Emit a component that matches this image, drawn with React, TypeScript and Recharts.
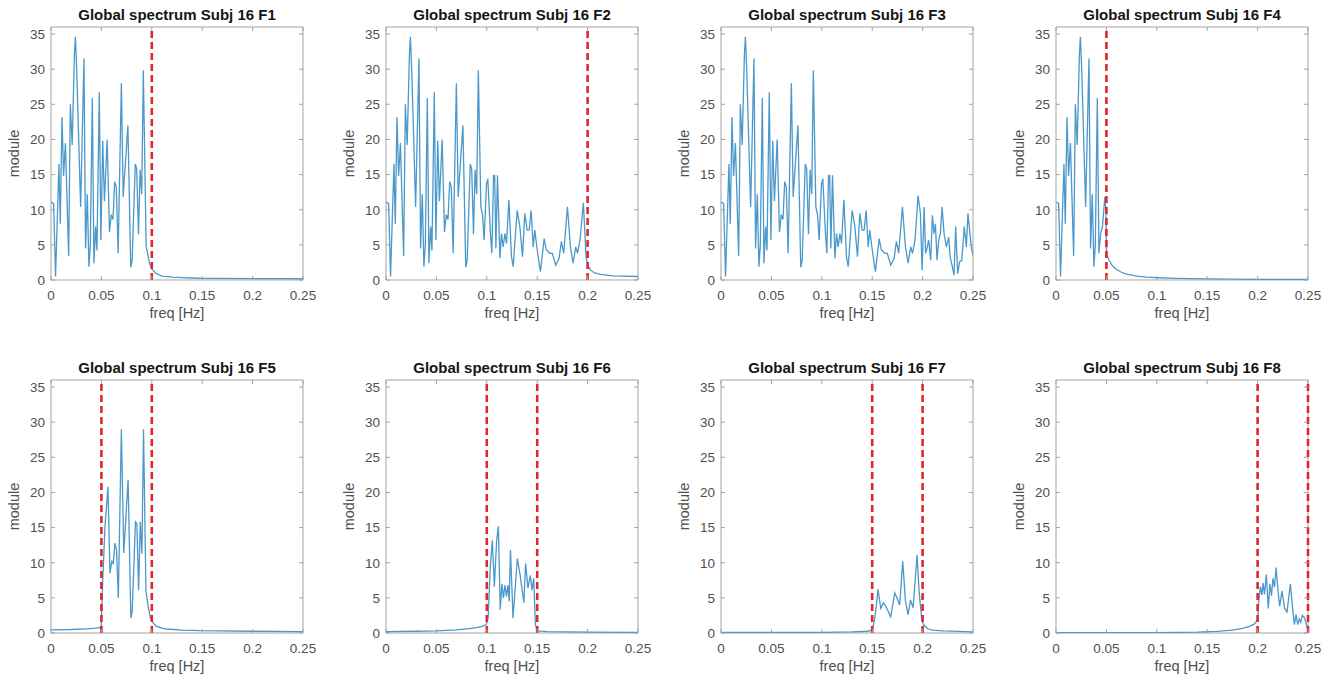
import React from 'react';
import { LineChart, Line, XAxis, YAxis, ReferenceLine, ReferenceArea } from 'recharts';

// ---------- axes ----------
const xTicks = [0, 0.05, 0.1, 0.15, 0.2, 0.25];
const yTicks = [0, 5, 10, 15, 20, 25, 30, 35];
const xDomain = [0, 0.25];
const yDomain = [0, 36];

const titles = [
  'Global spectrum Subj 16 F1',
  'Global spectrum Subj 16 F2',
  'Global spectrum Subj 16 F3',
  'Global spectrum Subj 16 F4',
  'Global spectrum Subj 16 F5',
  'Global spectrum Subj 16 F6',
  'Global spectrum Subj 16 F7',
  'Global spectrum Subj 16 F8',
];
const cutoffs = [[0.1], [0.2], [], [0.05], [0.05, 0.1], [0.1, 0.15], [0.15, 0.2], [0.2, 0.25]];

// ---------- full-band spectrum (F3, shared by F1, F2, F4 in their pass bands) ----------
const baseFreq = [
  0, 0.0026, 0.0045, 0.0079, 0.0092, 0.0109, 0.0125, 0.0143, 0.0175, 0.0192,
  0.021, 0.0232, 0.0242, 0.0255, 0.0294, 0.0327, 0.0343, 0.036, 0.0376, 0.039,
  0.041, 0.0426, 0.0443, 0.0456, 0.0479, 0.0495, 0.0513, 0.053, 0.0557, 0.058,
  0.0598, 0.0615, 0.0632, 0.0648, 0.0666, 0.0698, 0.0716, 0.0763, 0.0791, 0.0805,
  0.0836, 0.085, 0.0868, 0.0884, 0.09, 0.0916, 0.0941, 0.0958, 0.0974, 0.0997,
  0.101, 0.1037, 0.105, 0.1067, 0.1078, 0.109, 0.1106, 0.113, 0.1146, 0.1162,
  0.118, 0.1196, 0.1219, 0.1245, 0.1262, 0.1301, 0.1328, 0.1354, 0.1377, 0.14,
  0.142, 0.144, 0.146, 0.1476, 0.15, 0.1532, 0.1569, 0.159, 0.1625, 0.165,
  0.1684, 0.1717, 0.174, 0.1763, 0.18, 0.183, 0.1856, 0.1882, 0.19, 0.1925,
  0.1955, 0.1978, 0.1995, 0.2015, 0.203, 0.2044, 0.206, 0.208, 0.2097, 0.2113,
  0.2127, 0.2143, 0.216, 0.2176, 0.2193, 0.2213, 0.2236, 0.2259, 0.2275, 0.2295,
  0.2312, 0.2328, 0.2348, 0.2368, 0.2388, 0.2414, 0.2434, 0.245, 0.247, 0.2483,
  0.25,
];
const baseModule = [
  11.1, 10.9, 0.5, 16.5, 8, 23.2, 14.8, 19.5, 3.4, 25,
  19.2, 32, 34.6, 30, 10.4, 31.5, 4.5, 12.2, 1.9, 5,
  25.9, 2.4, 7.6, 4.2, 26.7, 5.7, 19.8, 11.2, 20, 6.8,
  9.3, 8.6, 14, 13.2, 3.8, 28, 11.8, 22, 1.8, 2.8,
  16.5, 15.8, 6.5, 15.7, 12.2, 29.8, 10.4, 9.2, 5.7, 13.7,
  14.4, 6.4, 3.8, 14.9, 14.9, 4.5, 14.9, 3.1, 6.6, 4.7,
  6.6, 5.2, 11.4, 3.3, 1.9, 9.9, 7.6, 3.3, 9.5, 7.1,
  7.1, 9.9, 4.7, 7.1, 4.3, 1.2, 5.9, 4.3, 3.8, 3.8,
  2.1, 3.1, 5.5, 3.8, 10.4, 4.7, 2.4, 4.7, 3.8, 5.7,
  12, 9.5, 1.4, 10.4, 3.8, 4.5, 5.7, 2.8, 9.2, 6.6,
  8, 2.8, 5.7, 6.6, 10.4, 6.6, 4.7, 6.1, 3.1, 1.9,
  0.7, 7.6, 0.9, 2.6, 2.8, 7.6, 4.7, 9.5, 6.6, 4.7,
  3.5,
];

// ---------- F1 (base up to 0.0916, then roll-off) ----------
const f1TailFreq = [0.0944, 0.0977, 0.1003, 0.104, 0.11, 0.12, 0.147, 0.2, 0.25];
const f1TailModule = [4.8, 2.4, 1.5, 0.95, 0.55, 0.4, 0.25, 0.2, 0.18];

// ---------- F2 (base up to 0.1925, then roll-off) ----------
const f2TailFreq = [0.1958, 0.1985, 0.2005, 0.203, 0.207, 0.213, 0.225, 0.25];
const f2TailModule = [11, 3.2, 2, 1.4, 1.0, 0.8, 0.6, 0.5];

// ---------- F4 (base up to 0.041, then roll-off) ----------
const f4TailFreq = [0.0426, 0.0443, 0.046, 0.0485, 0.0495, 0.0502, 0.053, 0.056, 0.06, 0.065, 0.07, 0.08, 0.09, 0.1, 0.12, 0.15, 0.2, 0.25];
const f4TailModule = [3.8, 6.6, 7.5, 11.8, 10, 3.6, 2.7, 2, 1.5, 1.1, 0.85, 0.55, 0.4, 0.32, 0.22, 0.15, 0.1, 0.08];

// ---------- F5 ----------
const f5Freq = [
  0, 0.02, 0.035, 0.045, 0.0498, 0.0512, 0.0535, 0.0565, 0.0585, 0.0603,
  0.0618, 0.0634, 0.065, 0.0668, 0.0698, 0.0722, 0.0765, 0.0792, 0.0805, 0.0838,
  0.0852, 0.0869, 0.0886, 0.0902, 0.0918, 0.0942, 0.0964, 0.0987, 0.1014, 0.1047,
  0.11, 0.1146, 0.13, 0.1476, 0.2, 0.25,
];
const f5Module = [
  0.45, 0.5, 0.6, 0.68, 0.8, 7, 15, 20.8, 8.5, 10.2,
  9.9, 12.8, 11.8, 5, 29, 11.4, 21.8, 2.1, 3, 15.8,
  15.5, 6.1, 15.8, 11.3, 29, 5.9, 3.8, 2.1, 1.4, 0.95,
  0.7, 0.57, 0.42, 0.33, 0.25, 0.2,
];

// ---------- F6 ----------
const f6Freq = [
  0, 0.03, 0.05, 0.07, 0.085, 0.095, 0.0995, 0.1013, 0.1035, 0.1055,
  0.1075, 0.1097, 0.1115, 0.1133, 0.115, 0.1165, 0.118, 0.1195, 0.121, 0.1222,
  0.1235, 0.126, 0.1303, 0.133, 0.1368, 0.1385, 0.1408, 0.1432, 0.1448, 0.1465,
  0.1482, 0.15, 0.16, 0.2, 0.25,
];
const f6Module = [
  0.2, 0.25, 0.3, 0.45, 0.65, 0.9, 1.2, 2.2, 9.5, 13.2,
  6.6, 13, 15.2, 3.3, 7, 5, 6.8, 5.2, 6.8, 4.5,
  11.8, 2.1, 10.6, 8.3, 4.3, 9.9, 6.4, 8.2, 6.1, 7.8,
  1.2, 0.3, 0.2, 0.12, 0.1,
];

// ---------- F7 ----------
const f7Freq = [
  0, 0.05, 0.1, 0.13, 0.145, 0.15, 0.1525, 0.1545, 0.1558, 0.1585,
  0.161, 0.1635, 0.1684, 0.1724, 0.174, 0.1773, 0.1803, 0.183, 0.1856, 0.188,
  0.1906, 0.1945, 0.1965, 0.199, 0.2008, 0.205, 0.21, 0.22, 0.25,
];
const f7Module = [
  0.08, 0.08, 0.1, 0.15, 0.25, 0.4, 2, 4.5, 6.2, 3.5,
  4.3, 3.8, 2.3, 5.7, 5.2, 4, 10.2, 4.5, 2.6, 4.7,
  3.6, 11.1, 6, 2.2, 1.2, 0.6, 0.4, 0.3, 0.15,
];

// ---------- F8 ----------
const f8Freq = [
  0, 0.1, 0.14, 0.16, 0.175, 0.185, 0.192, 0.197, 0.2, 0.2013,
  0.2028, 0.2042, 0.2055, 0.2068, 0.2087, 0.2106, 0.2122, 0.2138, 0.2152, 0.2168,
  0.2183, 0.2206, 0.2219, 0.2242, 0.2268, 0.2292, 0.2325, 0.2351, 0.2365, 0.2381,
  0.2398, 0.2414, 0.2428, 0.2444, 0.2464, 0.2483, 0.25,
];
const f8Module = [
  0.05, 0.06, 0.12, 0.22, 0.4, 0.65, 0.95, 1.3, 1.9, 4.7,
  6.6, 5.4, 7.1, 5.5, 8.3, 3.5, 7, 5.3, 7.8, 6.5,
  9.3, 5.5, 3.8, 6, 3.5, 3, 7, 3, 1.2, 2.6,
  1.2, 2, 1.5, 2.5, 2.2, 1.3, 0.5,
];

// ---------- helpers ----------
type Row = { f: number; v: number };
const toRows = (freq: number[], mod: number[]): Row[] => freq.map((f, i) => ({ f, v: mod[i] }));
const upTo = (freq: number[], mod: number[], maxF: number): Row[] =>
  toRows(freq, mod).filter((r) => r.f <= maxF);

const panels: Row[][] = [
  [...upTo(baseFreq, baseModule, 0.0916), ...toRows(f1TailFreq, f1TailModule)],
  [...upTo(baseFreq, baseModule, 0.1925), ...toRows(f2TailFreq, f2TailModule)],
  toRows(baseFreq, baseModule),
  [...upTo(baseFreq, baseModule, 0.041), ...toRows(f4TailFreq, f4TailModule)],
  toRows(f5Freq, f5Module),
  toRows(f6Freq, f6Module),
  toRows(f7Freq, f7Module),
  toRows(f8Freq, f8Module),
];

// ---------- layout ----------
const CW = 320;
const CH = 340;
const YW = 51;
const PW = 252;
const PH = 253;
const MT = 27;
const XH = 40;
const COL_STEP = 335;
const ROW_TOPS = [0, 353];
const TICK_M = 10;
const YTICK_M = 6;
const TICK_LEN = 4;
const FONT = "'Liberation Sans', Arial, Helvetica, sans-serif";
const LINE_COLOR = '#4b98cb';
const RED = '#e3262b';
const BOX = '#a3a3a3';
const TEXT = '#505050';

const XTick = (props: any) => {
  const { x, y, payload } = props;
  const axisY = y - TICK_M;
  return (
    <g>
      <line x1={x} x2={x} y1={axisY} y2={axisY - TICK_LEN} stroke={BOX} />
      <line x1={x} x2={x} y1={axisY - PH} y2={axisY - PH + TICK_LEN} stroke={BOX} />
      <text x={x} y={y} dy="0.71em" textAnchor="middle" fill={TEXT} fontSize={13.5}>
        {String(payload.value)}
      </text>
    </g>
  );
};

const YTick = (props: any) => {
  const { x, y, payload } = props;
  const axisX = x + YTICK_M;
  return (
    <g>
      <line x1={axisX} x2={axisX + TICK_LEN} y1={y} y2={y} stroke={BOX} />
      <line x1={axisX + PW} x2={axisX + PW - TICK_LEN} y1={y} y2={y} stroke={BOX} />
      <text x={x} y={y} dy="0.36em" textAnchor="end" fill={TEXT} fontSize={13.5}>
        {String(payload.value)}
      </text>
    </g>
  );
};

const YLabel = (props: any) => {
  const vb = props.viewBox || { x: 0, y: MT, width: YW, height: PH };
  const cx = vb.x + 14;
  const cy = vb.y + vb.height / 2;
  return (
    <text
      x={cx}
      y={cy}
      transform={`rotate(-90 ${cx} ${cy})`}
      textAnchor="middle"
      dy="0.36em"
      fill={TEXT}
      fontSize={14.5}
    >
      module
    </text>
  );
};

const Panel = ({ idx }: { idx: number }) => {
  const row = Math.floor(idx / 4);
  const col = idx % 4;
  const left = col * COL_STEP;
  const top = ROW_TOPS[row];
  return (
    <div style={{ position: 'absolute', left, top, width: CW, height: CH }}>
      <div
        style={{
          position: 'absolute',
          left: YW - 20,
          width: PW + 40,
          top: 5,
          height: 20,
          lineHeight: '20px',
          textAlign: 'center',
          fontWeight: 'bold',
          fontSize: 15,
          color: '#151515',
          whiteSpace: 'nowrap',
        }}
      >
        {titles[idx]}
      </div>
      <LineChart
        width={CW}
        height={CH}
        data={panels[idx]}
        margin={{ top: MT, right: CW - YW - PW, bottom: CH - MT - PH - XH, left: 0 }}
      >
        <XAxis
          dataKey="f"
          type="number"
          domain={xDomain}
          ticks={xTicks}
          allowDataOverflow
          height={XH}
          tickSize={0}
          tickLine={false}
          axisLine={false}
          tickMargin={TICK_M}
          tick={<XTick />}
          interval={0}
          label={{ value: 'freq [Hz]', position: 'insideBottom', offset: 2, fill: TEXT, fontSize: 14.5 }}
        />
        <YAxis
          type="number"
          domain={yDomain}
          ticks={yTicks}
          allowDataOverflow
          width={YW}
          tickSize={0}
          tickLine={false}
          axisLine={false}
          tickMargin={YTICK_M}
          tick={<YTick />}
          interval={0}
          label={{ value: 'module', content: <YLabel /> }}
        />
        <ReferenceArea x1={0} x2={0.25} y1={0} y2={36} fill="none" stroke={BOX} strokeWidth={1} ifOverflow="visible" />
        <Line
          type="linear"
          dataKey="v"
          stroke={LINE_COLOR}
          strokeWidth={1.3}
          dot={false}
          activeDot={false}
          isAnimationActive={false}
        />
        {cutoffs[idx].map((c) => (
          <ReferenceLine key={c} x={c} stroke={RED} strokeWidth={2.6} strokeDasharray="7 4" ifOverflow="visible" />
        ))}
      </LineChart>
    </div>
  );
};

export default function App() {
  return (
    <div
      style={{
        position: 'absolute',
        left: 0,
        top: 0,
        width: 1333,
        height: 679,
        background: '#ffffff',
        fontFamily: FONT,
        overflow: 'hidden',
      }}
    >
      {titles.map((_, i) => (
        <Panel key={i} idx={i} />
      ))}
    </div>
  );
}
